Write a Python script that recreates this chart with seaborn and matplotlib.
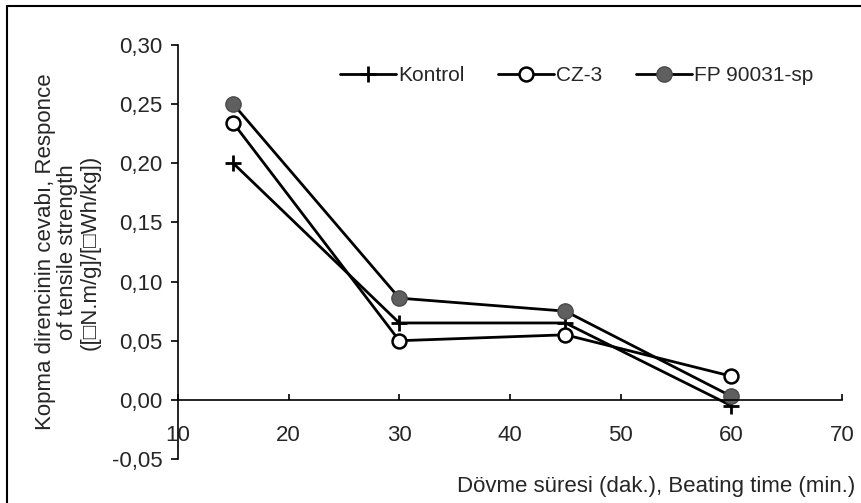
import pandas as pd
import seaborn as sns
import matplotlib.pyplot as plt
from matplotlib.ticker import FuncFormatter, MultipleLocator
from matplotlib.lines import Line2D

# Beating time (min.) and responses
minutes = [15, 30, 45, 60]
kontrol = [0.200, 0.065, 0.065, -0.005]
cz3 = [0.234, 0.050, 0.055, 0.020]
fp90031 = [0.250, 0.086, 0.075, 0.003]

series_names = ["Kontrol", "CZ-3", "FP 90031-sp"]

sns.set_theme(style="white")
plt.rcParams["font.family"] = ["Liberation Sans", "DejaVu Sans"]

fig = plt.figure(figsize=(8.61, 5.03), dpi=100)
ax = fig.add_axes([0.2067, 0.0875, 0.7713, 0.823])

# marker settings per series
styles = {
    "Kontrol": dict(marker="+", markersize=12, markeredgewidth=2,
                    markerfacecolor="black", markeredgecolor="black"),
    "CZ-3": dict(marker="o", markersize=10, markeredgewidth=1.8,
                 markerfacecolor="white", markeredgecolor="black"),
    "FP 90031-sp": dict(marker="o", markersize=11, markeredgewidth=1.0,
                        markerfacecolor="#5f5f5f", markeredgecolor="#4a4a4a"),
}

for name, vals in zip(series_names, [kontrol, cz3, fp90031]):
    df = pd.DataFrame({"t": minutes, "v": vals})
    sns.lineplot(data=df, x="t", y="v", ax=ax, color="black", linewidth=2.0,
                 **styles[name])

ax.set_xlim(10, 70)
ax.set_ylim(-0.05, 0.30)
ax.xaxis.set_major_locator(MultipleLocator(10))
ax.yaxis.set_major_locator(MultipleLocator(0.05))
ax.yaxis.set_major_formatter(FuncFormatter(lambda v, p: f"{v:.2f}".replace(".", ",")))

for s in ["top", "right"]:
    ax.spines[s].set_visible(False)
ax.spines["bottom"].set_position(("data", 0))
ax.spines["left"].set_color("black")
ax.spines["bottom"].set_color("black")
ax.spines["left"].set_linewidth(1.2)
ax.spines["bottom"].set_linewidth(1.2)

ax.tick_params(axis="y", direction="out", length=5, width=1.2, color="black",
               labelsize=16, pad=6, left=True)
ax.tick_params(axis="x", direction="in", length=4, width=1.2, color="black",
               labelsize=16, pad=18, bottom=True)

ax.set_xlabel("")
ax.set_ylabel("Kopma direncinin cevabı, Responce\nof tensile strength\n([□N.m/g]/[□Wh/kg])",
              fontsize=16, linespacing=1.1, labelpad=8)

fig.text(0.993, 0.032, "Dövme süresi (dak.), Beating time (min.)",
         ha="right", va="center", fontsize=16)

handles = [Line2D([0], [0], color="black", linewidth=2.0, **styles[n]) for n in series_names]
ax.legend(handles, series_names, loc="upper center", bbox_to_anchor=(0.6, 0.995),
          ncol=3, frameon=False, fontsize=15, handlelength=2.7, columnspacing=1.6,
          handletextpad=0.1)

# frame around the figure, top and left edges
fig.add_artist(Line2D([0.008, 0.008], [0, 0.988], transform=fig.transFigure,
                      color="black", linewidth=1.5))
fig.add_artist(Line2D([0.008, 1.0], [0.988, 0.988], transform=fig.transFigure,
                      color="black", linewidth=1.5))

fig.savefig("out.png", dpi=100)
